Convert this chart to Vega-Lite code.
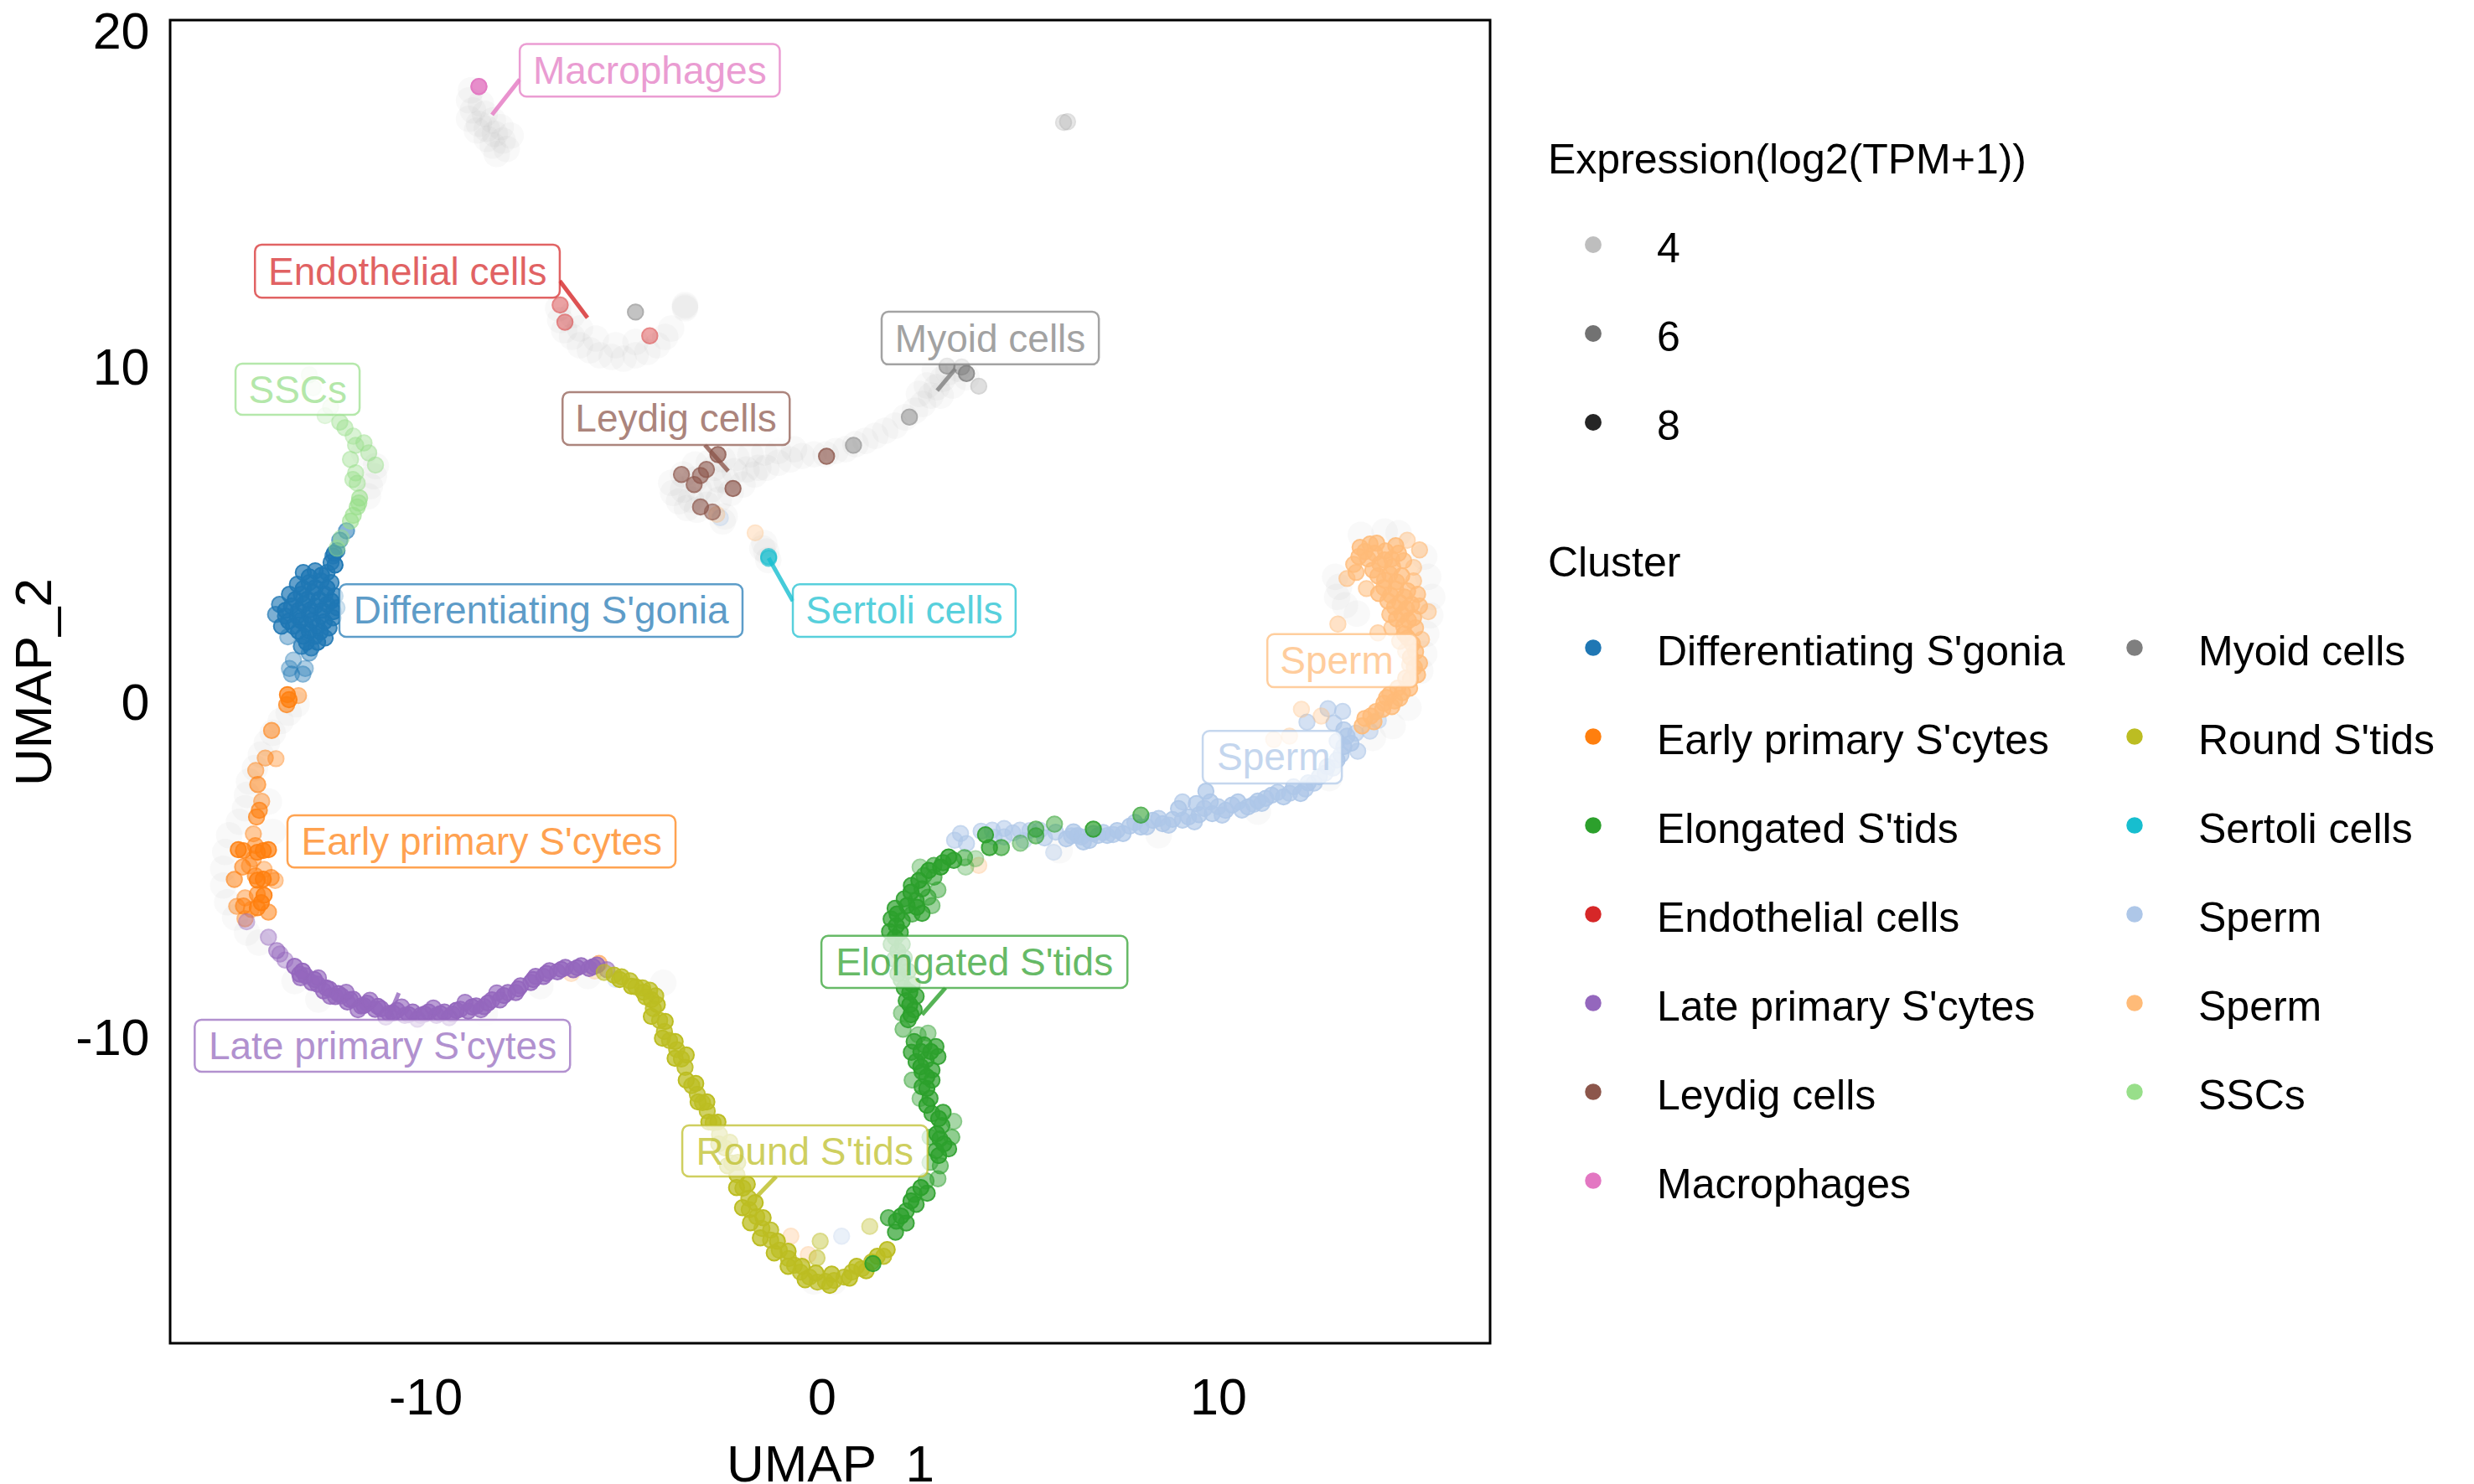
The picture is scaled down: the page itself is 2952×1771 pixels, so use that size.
{"$schema":"https://vega.github.io/schema/vega-lite/v6.json","autosize":{"type":"none"},"width":1575,"height":1579,"padding":{"left":203,"top":24,"right":1174,"bottom":168},"background":"white",
"config":{"font":"Liberation Sans","view":{"stroke":"#000","strokeWidth":3}},
"datasets":{
"bg":[{"x":-8.85,"y":18.2},{"x":-8.9,"y":17.9},{"x":-8.8,"y":17.6},{"x":-8.9,"y":17.35},{"x":-8.6,"y":17.8},{"x":-8.5,"y":17.5},{"x":-8.65,"y":17.2},{"x":-8.45,"y":17.05},{"x":-8.3,"y":17.3},{"x":-8.25,"y":16.9},{"x":-8.1,"y":17.1},{"x":-8.05,"y":16.7},{"x":-7.95,"y":16.45},{"x":-7.85,"y":16.85},{"x":-8.3,"y":16.55},{"x":-8.45,"y":16.75},{"x":-8.7,"y":17.0},{"x":-8.2,"y":16.3},
{"x":-6.65,"y":11.7},{"x":-6.6,"y":11.35},{"x":-6.5,"y":11.05},{"x":-6.3,"y":10.85},{"x":-6.1,"y":10.6},{"x":-5.85,"y":10.45},{"x":-5.6,"y":10.3},{"x":-5.3,"y":10.25},{"x":-5.0,"y":10.2},{"x":-4.7,"y":10.3},{"x":-4.4,"y":10.4},{"x":-4.15,"y":10.6},{"x":-3.95,"y":10.85},{"x":-3.8,"y":11.1},{"x":-5.2,"y":10.6},{"x":-5.7,"y":10.8},{"x":-6.1,"y":11.1},{"x":-6.3,"y":11.5},{"x":-4.7,"y":10.7},{"x":-3.45,"y":11.75},{"x":-3.45,"y":11.7},{"x":-3.45,"y":11.8},
{"x":-3.8,"y":6.5},{"x":-3.75,"y":6.2},{"x":-3.6,"y":5.95},{"x":-3.4,"y":5.75},{"x":-3.15,"y":5.7},{"x":-2.9,"y":5.85},{"x":-2.6,"y":6.0},{"x":-2.3,"y":6.2},{"x":-2.0,"y":6.45},{"x":-1.7,"y":6.75},{"x":-1.4,"y":6.95},{"x":-1.1,"y":7.1},{"x":-0.8,"y":7.2},{"x":-0.5,"y":7.3},{"x":-0.2,"y":7.35},{"x":-3.5,"y":6.75},{"x":-3.2,"y":7.05},{"x":-2.85,"y":7.1},{"x":-2.5,"y":7.2},{"x":-2.15,"y":7.25},{"x":-1.8,"y":7.35},{"x":-1.45,"y":7.4},{"x":-1.1,"y":7.45},{"x":-0.7,"y":7.5},{"x":-2.6,"y":6.6},{"x":-3.1,"y":6.3},{"x":-2.2,"y":6.85},{"x":-1.6,"y":6.95},{"x":-3.5,"y":6.3},{"x":-3.2,"y":6.6},{"x":-2.8,"y":6.3},{"x":-3.3,"y":6.0},{"x":-2.4,"y":6.55},{"x":-1.9,"y":6.9},{"x":-2.7,"y":6.95},
{"x":0.1,"y":7.35},{"x":0.35,"y":7.45},{"x":0.6,"y":7.5},{"x":0.85,"y":7.65},{"x":1.1,"y":7.75},{"x":1.35,"y":7.9},{"x":1.6,"y":8.05},{"x":1.85,"y":8.2},{"x":2.1,"y":8.45},{"x":2.35,"y":8.65},{"x":2.55,"y":8.85},{"x":2.75,"y":9.1},{"x":2.9,"y":9.35},{"x":3.05,"y":9.6},{"x":3.2,"y":9.8},{"x":3.45,"y":9.9},{"x":3.65,"y":9.65},{"x":2.65,"y":9.4},{"x":3.0,"y":9.1},{"x":3.3,"y":9.4},{"x":2.45,"y":9.15},{"x":2.85,"y":9.85},
{"x":-1.45,"y":4.7},{"x":-1.4,"y":4.45},{"x":-1.35,"y":4.2},{"x":-1.5,"y":4.55},{"x":-2.5,"y":5.35},{"x":-2.45,"y":5.5},
{"x":-11.3,"y":6.7},{"x":-11.4,"y":6.4},{"x":-11.25,"y":7.0},{"x":-11.45,"y":6.1},{"x":-11.55,"y":7.4},
{"x":-13.25,"y":-0.1},{"x":-13.45,"y":-0.35},{"x":-13.65,"y":-0.6},{"x":-13.85,"y":-0.95},{"x":-14.0,"y":-1.25},{"x":-14.15,"y":-1.6},{"x":-14.3,"y":-2.0},{"x":-14.45,"y":-2.4},{"x":-14.5,"y":-2.8},{"x":-14.55,"y":-3.2},{"x":-14.7,"y":-3.6},{"x":-14.95,"y":-4.0},{"x":-15.05,"y":-4.5},{"x":-15.1,"y":-5.0},{"x":-15.1,"y":-5.5},{"x":-15.0,"y":-6.0},{"x":-14.8,"y":-6.45},{"x":-14.5,"y":-6.9},{"x":-14.2,"y":-7.2},{"x":-13.95,"y":-3.0},{"x":-13.85,"y":-3.9},
{"x":12.95,"y":3.7},{"x":13.05,"y":3.4},{"x":13.0,"y":3.1},{"x":13.2,"y":2.85},{"x":13.5,"y":2.6},{"x":15.4,"y":3.1},{"x":15.35,"y":2.55},{"x":15.25,"y":2.0},{"x":15.2,"y":1.4},{"x":15.1,"y":0.9},{"x":14.55,"y":5.0},{"x":14.2,"y":5.05},{"x":15.2,"y":4.3},{"x":15.3,"y":3.7},{"x":13.6,"y":4.95},{"x":14.8,"y":-0.2},{"x":14.4,"y":-0.75},{"x":13.9,"y":-1.1},
{"x":-0.2,"y":-17.3},{"x":0.3,"y":-17.3},{"x":-5.9,"y":-8.2},{"x":-12.7,"y":-8.9},{"x":-13.3,"y":-8.35},{"x":-10,"y":-9.55},{"x":-8.5,"y":-9.3},{"x":-7.1,"y":-8.5},{"x":-4.0,"y":-8.4},{"x":6,"y":-4.45},{"x":8.5,"y":-4.0},{"x":11,"y":-3.3},{"x":12.8,"y":-2.3}],
"cells":[
{"x":3.35,"y":-4.15,"c":"Sperm","e":7},{"x":3.5,"y":-3.95,"c":"Sperm","e":7},{"x":3.65,"y":-4.25,"c":"Sperm","e":7},{"x":4.02,"y":-3.88,"c":"Sperm","e":7},{"x":4.35,"y":-4.06,"c":"Sperm","e":7},{"x":4.6,"y":-3.8,"c":"Sperm","e":7},{"x":4.82,"y":-3.93,"c":"Sperm","e":7},{"x":5.1,"y":-4.16,"c":"Sperm","e":6},{"x":5.25,"y":-3.86,"c":"Sperm","e":7},{"x":5.62,"y":-4.08,"c":"Sperm","e":7.5},{"x":5.85,"y":-4.51,"c":"Sperm","e":5.5},{"x":5.9,"y":-3.91,"c":"Sperm","e":7.5},{"x":6.17,"y":-4.11,"c":"Sperm","e":8.5},{"x":6.35,"y":-3.9,"c":"Sperm","e":8.5},{"x":6.45,"y":-4.01,"c":"Sperm","e":8.5},{"x":6.6,"y":-4.2,"c":"Sperm","e":8.5},{"x":6.75,"y":-4.16,"c":"Sperm","e":8.5},{"x":6.97,"y":-4.01,"c":"Sperm","e":8.5},{"x":7.2,"y":-4.01,"c":"Sperm","e":8.5},{"x":7.45,"y":-3.86,"c":"Sperm","e":8.5},{"x":7.6,"y":-3.95,"c":"Sperm","e":8.5},{"x":7.77,"y":-3.73,"c":"Sperm","e":8.5},{"x":8.05,"y":-3.76,"c":"Sperm","e":8.5},{"x":8.35,"y":-3.56,"c":"Sperm","e":8.5},{"x":8.6,"y":-3.66,"c":"Sperm","e":8.5},{"x":8.85,"y":-3.53,"c":"Sperm","e":8.5},{"x":9.1,"y":-3.01,"c":"Sperm","e":7.5},{"x":9.0,"y":-3.21,"c":"Sperm","e":8.5},{"x":9.25,"y":-3.46,"c":"Sperm","e":8.5},{"x":9.52,"y":-3.39,"c":"Sperm","e":8.5},{"x":9.69,"y":-2.69,"c":"Sperm","e":8.5},{"x":9.45,"y":-3.06,"c":"Sperm","e":8.5},{"x":9.85,"y":-3.36,"c":"Sperm","e":8.5},{"x":9.8,"y":-3.01,"c":"Sperm","e":8.5},{"x":10.19,"y":-3.26,"c":"Sperm","e":8.5},{"x":10.35,"y":-3.1,"c":"Sperm","e":8.5},{"x":10.5,"y":-3.01,"c":"Sperm","e":8.5},{"x":10.75,"y":-3.16,"c":"Sperm","e":8.5},{"x":11.0,"y":-2.98,"c":"Sperm","e":8.5},{"x":11.2,"y":-2.9,"c":"Sperm","e":8.5},{"x":11.35,"y":-2.81,"c":"Sperm","e":8.5},{"x":11.65,"y":-2.86,"c":"Sperm","e":8.5},{"x":11.9,"y":-2.56,"c":"Sperm","e":8.5},{"x":12.08,"y":-2.76,"c":"Sperm","e":8.5},{"x":12.27,"y":-2.44,"c":"Sperm","e":8.5},{"x":12.55,"y":-2.26,"c":"Sperm","e":8.5},{"x":12.75,"y":-1.96,"c":"Sperm","e":8.5},{"x":13.0,"y":-1.76,"c":"Sperm","e":8.5},{"x":13.17,"y":-1.36,"c":"Sperm","e":8.5},{"x":13.35,"y":-1.26,"c":"Sperm","e":8.5},{"x":13.52,"y":-1.5,"c":"Sperm","e":7},{"x":13.47,"y":-0.96,"c":"Sperm","e":7},{"x":13.17,"y":-0.86,"c":"Sperm","e":8},{"x":12.92,"y":-0.66,"c":"Sperm","e":7},{"x":13.14,"y":-0.31,"c":"Sperm","e":7},{"x":12.77,"y":-0.23,"c":"Sperm","e":7},{"x":12.24,"y":-0.63,"c":"Sperm","e":7},{"x":14.04,"y":-0.58,"c":"Sperm","e":6},{"x":13.83,"y":-0.9,"c":"Sperm","e":6.5},{"x":0.5,"y":-15.95,"c":"Sperm","e":4.5},{"x":-2.56,"y":5.46,"c":"Sperm","e":5},{"x":-5.2,"y":-8.3,"c":"Sperm","e":4.5},
{"x":6.3,"y":-4.02,"c":"Sperm","e":8},{"x":6.55,"y":-4.05,"c":"Sperm","e":8},{"x":6.85,"y":-3.95,"c":"Sperm","e":8},{"x":7.1,"y":-3.92,"c":"Sperm","e":8},{"x":7.35,"y":-3.98,"c":"Sperm","e":8},{"x":7.9,"y":-3.62,"c":"Sperm","e":8},{"x":8.2,"y":-3.75,"c":"Sperm","e":8},{"x":8.5,"y":-3.5,"c":"Sperm","e":8},{"x":8.75,"y":-3.7,"c":"Sperm","e":8},{"x":9.1,"y":-3.55,"c":"Sperm","e":8},{"x":9.4,"y":-3.6,"c":"Sperm","e":8},{"x":9.65,"y":-3.2,"c":"Sperm","e":8},{"x":10.0,"y":-3.15,"c":"Sperm","e":8},{"x":10.1,"y":-3.4,"c":"Sperm","e":8},{"x":10.6,"y":-3.25,"c":"Sperm","e":8},{"x":10.9,"y":-3.08,"c":"Sperm","e":8},{"x":11.1,"y":-3.05,"c":"Sperm","e":8},{"x":11.5,"y":-2.72,"c":"Sperm","e":8},{"x":11.8,"y":-2.75,"c":"Sperm","e":8},{"x":12.2,"y":-2.62,"c":"Sperm","e":8},{"x":12.42,"y":-2.45,"c":"Sperm","e":8},{"x":12.7,"y":-2.15,"c":"Sperm","e":8},{"x":12.9,"y":-2.0,"c":"Sperm","e":8},{"x":13.1,"y":-1.6,"c":"Sperm","e":8},{"x":13.25,"y":-1.05,"c":"Sperm","e":8},{"x":13.0,"y":-1.2,"c":"Sperm","e":8},{"x":4.3,"y":-3.85,"c":"Sperm","e":7},{"x":4.6,"y":-4.05,"c":"Sperm","e":7},{"x":5.0,"y":-3.85,"c":"Sperm","e":7},{"x":5.5,"y":-3.85,"c":"Sperm","e":7},
{"x":11.4,"y":-1.15,"c":"Sperm ","e":5},{"x":11.8,"y":-1.05,"c":"Sperm ","e":5},{"x":12.6,"y":-0.45,"c":"Sperm ","e":5},{"x":12.1,"y":-0.25,"c":"Sperm ","e":5},
{"x":13.58,"y":4.58,"c":"Sperm ","e":8.5},{"x":13.83,"y":4.68,"c":"Sperm ","e":8.5},{"x":14.22,"y":4.47,"c":"Sperm ","e":8.5},{"x":14.0,"y":4.7,"c":"Sperm ","e":8.5},{"x":14.48,"y":4.63,"c":"Sperm ","e":8.5},{"x":14.77,"y":4.79,"c":"Sperm ","e":6},{"x":15.08,"y":4.5,"c":"Sperm ","e":7},{"x":13.42,"y":4.07,"c":"Sperm ","e":8},{"x":13.25,"y":3.65,"c":"Sperm ","e":7},{"x":13.48,"y":3.83,"c":"Sperm ","e":8},{"x":13.78,"y":4.23,"c":"Sperm ","e":8.5},{"x":14.08,"y":4.08,"c":"Sperm ","e":8.5},{"x":14.38,"y":4.23,"c":"Sperm ","e":8.5},{"x":14.68,"y":4.18,"c":"Sperm ","e":8},{"x":14.93,"y":3.98,"c":"Sperm ","e":6.5},{"x":13.74,"y":3.35,"c":"Sperm ","e":7},{"x":14.03,"y":3.73,"c":"Sperm ","e":8.5},{"x":14.33,"y":3.78,"c":"Sperm ","e":8.5},{"x":14.63,"y":3.73,"c":"Sperm ","e":8.5},{"x":14.93,"y":3.58,"c":"Sperm ","e":7},{"x":14.18,"y":3.38,"c":"Sperm ","e":8.5},{"x":14.48,"y":3.33,"c":"Sperm ","e":8.5},{"x":14.78,"y":3.28,"c":"Sperm ","e":8.5},{"x":15.03,"y":3.18,"c":"Sperm ","e":8},{"x":14.28,"y":2.98,"c":"Sperm ","e":8.5},{"x":14.58,"y":2.93,"c":"Sperm ","e":8.5},{"x":14.88,"y":2.88,"c":"Sperm ","e":8.5},{"x":15.08,"y":2.83,"c":"Sperm ","e":8},{"x":15.3,"y":2.66,"c":"Sperm ","e":6.5},{"x":14.33,"y":2.58,"c":"Sperm ","e":8},{"x":14.63,"y":2.58,"c":"Sperm ","e":8.5},{"x":14.93,"y":2.48,"c":"Sperm ","e":8.5},{"x":14.38,"y":2.18,"c":"Sperm ","e":7},{"x":14.68,"y":2.23,"c":"Sperm ","e":8},{"x":14.98,"y":2.18,"c":"Sperm ","e":8},{"x":14.03,"y":2.03,"c":"Sperm ","e":6.5},{"x":14.78,"y":1.88,"c":"Sperm ","e":8.5},{"x":15.13,"y":1.83,"c":"Sperm ","e":7},{"x":14.58,"y":1.78,"c":"Sperm ","e":7},{"x":14.98,"y":1.47,"c":"Sperm ","e":8.5},{"x":14.73,"y":1.48,"c":"Sperm ","e":6},{"x":15.08,"y":1.13,"c":"Sperm ","e":8.5},{"x":14.83,"y":1.08,"c":"Sperm ","e":7},{"x":15.03,"y":0.78,"c":"Sperm ","e":8.5},{"x":14.73,"y":0.68,"c":"Sperm ","e":8.5},{"x":14.83,"y":0.38,"c":"Sperm ","e":8.5},{"x":14.53,"y":0.38,"c":"Sperm ","e":8.5},{"x":14.33,"y":0.2,"c":"Sperm ","e":8.5},{"x":14.58,"y":0.08,"c":"Sperm ","e":8.5},{"x":14.18,"y":-0.07,"c":"Sperm ","e":8.5},{"x":14.38,"y":-0.17,"c":"Sperm ","e":8.5},{"x":13.98,"y":-0.32,"c":"Sperm ","e":8.5},{"x":13.7,"y":-0.52,"c":"Sperm ","e":8.5},{"x":13.93,"y":-0.62,"c":"Sperm ","e":8.5},{"x":13.63,"y":-0.74,"c":"Sperm ","e":8.5},{"x":13.02,"y":2.29,"c":"Sperm ","e":6},{"x":3.96,"y":-4.9,"c":"Sperm ","e":5},{"x":-2.65,"y":5.56,"c":"Sperm ","e":5},{"x":-1.68,"y":5.01,"c":"Sperm ","e":5},{"x":-0.78,"y":-15.95,"c":"Sperm ","e":5},{"x":-0.34,"y":-16.5,"c":"Sperm ","e":5},{"x":-6.32,"y":-8.12,"c":"Sperm ","e":5},{"x":-5.73,"y":-8.05,"c":"Sperm ","e":5},
{"x":13.7,"y":4.45,"c":"Sperm ","e":8.5},{"x":13.95,"y":4.4,"c":"Sperm ","e":8.5},{"x":14.2,"y":4.2,"c":"Sperm ","e":8.5},{"x":14.55,"y":4.4,"c":"Sperm ","e":8.5},{"x":13.55,"y":4.3,"c":"Sperm ","e":8.5},{"x":13.9,"y":3.9,"c":"Sperm ","e":8.5},{"x":14.2,"y":3.6,"c":"Sperm ","e":8.5},{"x":14.5,"y":3.55,"c":"Sperm ","e":8.5},{"x":14.4,"y":4.0,"c":"Sperm ","e":8.5},{"x":14.05,"y":3.2,"c":"Sperm ","e":8.5},{"x":14.35,"y":3.15,"c":"Sperm ","e":8.5},{"x":14.7,"y":3.1,"c":"Sperm ","e":8.5},{"x":14.45,"y":2.8,"c":"Sperm ","e":8.5},{"x":14.75,"y":2.75,"c":"Sperm ","e":8.5},{"x":14.5,"y":2.45,"c":"Sperm ","e":8.5},{"x":14.8,"y":2.4,"c":"Sperm ","e":8.5},{"x":14.7,"y":2.0,"c":"Sperm ","e":8.5},{"x":14.9,"y":1.7,"c":"Sperm ","e":8.5},{"x":14.85,"y":1.3,"c":"Sperm ","e":8.5},{"x":14.95,"y":1.0,"c":"Sperm ","e":8.5},{"x":14.85,"y":0.65,"c":"Sperm ","e":8.5},{"x":14.65,"y":0.25,"c":"Sperm ","e":8.5},{"x":14.45,"y":0.0,"c":"Sperm ","e":8.5},{"x":14.15,"y":-0.25,"c":"Sperm ","e":8.5},{"x":13.85,"y":-0.45,"c":"Sperm ","e":8.5},{"x":14.25,"y":0.1,"c":"Sperm ","e":8.5},
{"x":-13.33,"y":1.22,"c":"Differentiating S'gonia","e":5.5},{"x":-13.47,"y":1.91,"c":"Differentiating S'gonia","e":6},{"x":-13.43,"y":0.97,"c":"Differentiating S'gonia","e":5.5},{"x":-13.03,"y":0.97,"c":"Differentiating S'gonia","e":5.5},{"x":-13.38,"y":0.8,"c":"Differentiating S'gonia","e":6},{"x":-13.09,"y":0.8,"c":"Differentiating S'gonia","e":6},
{"x":-12.33,"y":4.32,"c":"Differentiating S'gonia","e":8},{"x":-12.38,"y":4.13,"c":"Differentiating S'gonia","e":8.5},{"x":-12.23,"y":4.48,"c":"Differentiating S'gonia","e":8},{"x":-12.16,"y":4.79,"c":"Differentiating S'gonia","e":7},{"x":-11.99,"y":5.07,"c":"Differentiating S'gonia","e":7},
{"x":-13.08,"y":3.83,"c":"Differentiating S'gonia","e":8.5},{"x":-12.78,"y":3.88,"c":"Differentiating S'gonia","e":8.5},{"x":-12.48,"y":3.83,"c":"Differentiating S'gonia","e":8.5},{"x":-13.23,"y":3.48,"c":"Differentiating S'gonia","e":8.5},{"x":-12.93,"y":3.53,"c":"Differentiating S'gonia","e":8.5},{"x":-12.63,"y":3.58,"c":"Differentiating S'gonia","e":8.5},{"x":-12.38,"y":3.53,"c":"Differentiating S'gonia","e":8.5},{"x":-13.43,"y":3.18,"c":"Differentiating S'gonia","e":8.5},{"x":-13.13,"y":3.18,"c":"Differentiating S'gonia","e":8.5},{"x":-12.83,"y":3.23,"c":"Differentiating S'gonia","e":8.5},{"x":-12.53,"y":3.18,"c":"Differentiating S'gonia","e":8.5},{"x":-12.28,"y":3.13,"c":"Differentiating S'gonia","e":8.5},{"x":-13.68,"y":2.88,"c":"Differentiating S'gonia","e":8},{"x":-13.38,"y":2.83,"c":"Differentiating S'gonia","e":8.5},{"x":-13.08,"y":2.88,"c":"Differentiating S'gonia","e":8.5},{"x":-12.78,"y":2.83,"c":"Differentiating S'gonia","e":8.5},{"x":-12.48,"y":2.88,"c":"Differentiating S'gonia","e":8.5},{"x":-12.23,"y":2.78,"c":"Differentiating S'gonia","e":8.5},{"x":-13.78,"y":2.58,"c":"Differentiating S'gonia","e":7.5},{"x":-13.53,"y":2.53,"c":"Differentiating S'gonia","e":8.5},{"x":-13.23,"y":2.53,"c":"Differentiating S'gonia","e":8.5},{"x":-12.93,"y":2.58,"c":"Differentiating S'gonia","e":8.5},{"x":-12.63,"y":2.53,"c":"Differentiating S'gonia","e":8.5},{"x":-12.33,"y":2.48,"c":"Differentiating S'gonia","e":8.5},{"x":-13.63,"y":2.23,"c":"Differentiating S'gonia","e":8.5},{"x":-13.33,"y":2.23,"c":"Differentiating S'gonia","e":8.5},{"x":-13.03,"y":2.28,"c":"Differentiating S'gonia","e":8.5},{"x":-12.73,"y":2.23,"c":"Differentiating S'gonia","e":8.5},{"x":-12.43,"y":2.18,"c":"Differentiating S'gonia","e":8.5},{"x":-13.08,"y":1.93,"c":"Differentiating S'gonia","e":8.5},{"x":-12.78,"y":1.93,"c":"Differentiating S'gonia","e":8.5},{"x":-12.53,"y":1.88,"c":"Differentiating S'gonia","e":8.5},{"x":-13.13,"y":1.63,"c":"Differentiating S'gonia","e":8},{"x":-12.88,"y":1.58,"c":"Differentiating S'gonia","e":8},{"x":-12.93,"y":1.43,"c":"Differentiating S'gonia","e":6.5},
{"x":-12.93,"y":3.7,"c":"Differentiating S'gonia","e":9},{"x":-12.62,"y":3.75,"c":"Differentiating S'gonia","e":9},{"x":-13.08,"y":3.35,"c":"Differentiating S'gonia","e":9},{"x":-12.78,"y":3.38,"c":"Differentiating S'gonia","e":9},{"x":-12.48,"y":3.36,"c":"Differentiating S'gonia","e":9},{"x":-13.28,"y":3.02,"c":"Differentiating S'gonia","e":9},{"x":-12.98,"y":3.03,"c":"Differentiating S'gonia","e":9},{"x":-12.68,"y":3.02,"c":"Differentiating S'gonia","e":9},{"x":-12.38,"y":2.98,"c":"Differentiating S'gonia","e":9},{"x":-13.53,"y":2.7,"c":"Differentiating S'gonia","e":9},{"x":-13.2,"y":2.7,"c":"Differentiating S'gonia","e":9},{"x":-12.9,"y":2.72,"c":"Differentiating S'gonia","e":9},{"x":-12.6,"y":2.7,"c":"Differentiating S'gonia","e":9},{"x":-12.32,"y":2.66,"c":"Differentiating S'gonia","e":9},{"x":-13.45,"y":2.38,"c":"Differentiating S'gonia","e":9},{"x":-13.15,"y":2.4,"c":"Differentiating S'gonia","e":9},{"x":-12.85,"y":2.4,"c":"Differentiating S'gonia","e":9},{"x":-12.55,"y":2.36,"c":"Differentiating S'gonia","e":9},{"x":-13.2,"y":2.08,"c":"Differentiating S'gonia","e":9},{"x":-12.93,"y":2.08,"c":"Differentiating S'gonia","e":9},{"x":-12.65,"y":2.06,"c":"Differentiating S'gonia","e":9},{"x":-13.0,"y":1.75,"c":"Differentiating S'gonia","e":9},{"x":-12.72,"y":1.75,"c":"Differentiating S'gonia","e":9},{"x":-12.28,"y":4.05,"c":"Differentiating S'gonia","e":9},{"x":-12.3,"y":4.4,"c":"Differentiating S'gonia","e":8.5},
{"x":-12.12,"y":4.86,"c":"SSCs","e":6},{"x":-12.23,"y":4.55,"c":"SSCs","e":6},{"x":-11.89,"y":5.36,"c":"SSCs","e":7},{"x":-11.82,"y":5.53,"c":"SSCs","e":7},{"x":-11.72,"y":5.78,"c":"SSCs","e":7},{"x":-11.66,"y":6.05,"c":"SSCs","e":7},{"x":-11.68,"y":5.9,"c":"SSCs","e":7},{"x":-11.72,"y":6.49,"c":"SSCs","e":6},{"x":-11.76,"y":6.8,"c":"SSCs","e":6},{"x":-11.83,"y":6.6,"c":"SSCs","e":6},{"x":-11.89,"y":7.2,"c":"SSCs","e":6},{"x":-11.26,"y":7.03,"c":"SSCs","e":6},{"x":-11.43,"y":7.39,"c":"SSCs","e":6},{"x":-11.76,"y":7.62,"c":"SSCs","e":6},{"x":-11.55,"y":7.69,"c":"SSCs","e":6},{"x":-11.82,"y":7.89,"c":"SSCs","e":5.5},{"x":-12.03,"y":8.14,"c":"SSCs","e":6},{"x":-12.16,"y":8.31,"c":"SSCs","e":6},{"x":-12.39,"y":8.76,"c":"SSCs","e":4.5},{"x":-12.53,"y":8.5,"c":"SSCs","e":4.5},{"x":-12.83,"y":9.33,"c":"SSCs","e":4},{"x":-12.93,"y":9.72,"c":"SSCs","e":4},
{"x":-13.48,"y":0.19,"c":"Early primary S'cytes","e":8.5},{"x":-13.2,"y":0.16,"c":"Early primary S'cytes","e":6},{"x":-13.5,"y":-0.11,"c":"Early primary S'cytes","e":7.5},{"x":-13.44,"y":0.04,"c":"Early primary S'cytes","e":8.5},{"x":-13.88,"y":-0.88,"c":"Early primary S'cytes","e":7},{"x":-14.04,"y":-1.7,"c":"Early primary S'cytes","e":6},{"x":-13.77,"y":-1.72,"c":"Early primary S'cytes","e":5.5},{"x":-14.28,"y":-2.07,"c":"Early primary S'cytes","e":6},{"x":-14.23,"y":-2.49,"c":"Early primary S'cytes","e":7},{"x":-14.13,"y":-2.99,"c":"Early primary S'cytes","e":6},{"x":-14.19,"y":-3.26,"c":"Early primary S'cytes","e":7.5},{"x":-14.26,"y":-3.46,"c":"Early primary S'cytes","e":7.5},{"x":-14.34,"y":-3.96,"c":"Early primary S'cytes","e":6},{"x":-14.72,"y":-4.43,"c":"Early primary S'cytes","e":8.5},{"x":-14.59,"y":-4.46,"c":"Early primary S'cytes","e":8},{"x":-14.29,"y":-4.31,"c":"Early primary S'cytes","e":7},{"x":-14.24,"y":-4.51,"c":"Early primary S'cytes","e":8.5},{"x":-14.09,"y":-4.46,"c":"Early primary S'cytes","e":8.5},{"x":-13.96,"y":-4.43,"c":"Early primary S'cytes","e":8.5},{"x":-14.34,"y":-4.71,"c":"Early primary S'cytes","e":6},{"x":-14.61,"y":-4.95,"c":"Early primary S'cytes","e":7},{"x":-14.44,"y":-4.91,"c":"Early primary S'cytes","e":6},{"x":-14.82,"y":-5.32,"c":"Early primary S'cytes","e":7},{"x":-14.24,"y":-5.34,"c":"Early primary S'cytes","e":8.5},{"x":-14.09,"y":-5.31,"c":"Early primary S'cytes","e":8.5},{"x":-14.29,"y":-5.21,"c":"Early primary S'cytes","e":7},{"x":-13.79,"y":-5.35,"c":"Early primary S'cytes","e":5.5},{"x":-13.89,"y":-5.26,"c":"Early primary S'cytes","e":7},{"x":-14.07,"y":-5.02,"c":"Early primary S'cytes","e":5.5},{"x":-14.55,"y":-5.87,"c":"Early primary S'cytes","e":6},{"x":-14.07,"y":-5.79,"c":"Early primary S'cytes","e":8.5},{"x":-14.24,"y":-5.76,"c":"Early primary S'cytes","e":7},{"x":-14.14,"y":-6.01,"c":"Early primary S'cytes","e":8.5},{"x":-14.76,"y":-6.12,"c":"Early primary S'cytes","e":6},{"x":-14.59,"y":-6.11,"c":"Early primary S'cytes","e":7},{"x":-13.96,"y":-6.29,"c":"Early primary S'cytes","e":7},{"x":-14.24,"y":-6.16,"c":"Early primary S'cytes","e":8},{"x":-14.39,"y":-6.21,"c":"Early primary S'cytes","e":6},{"x":-14.55,"y":-6.49,"c":"Early primary S'cytes","e":6},{"x":-5.62,"y":-7.82,"c":"Early primary S'cytes","e":6},
{"x":-14.51,"y":-6.58,"c":"Late primary S'cytes","e":5.5},{"x":-13.96,"y":-7.04,"c":"Late primary S'cytes","e":6},{"x":-13.75,"y":-7.44,"c":"Late primary S'cytes","e":7},{"x":-13.67,"y":-7.54,"c":"Late primary S'cytes","e":6},{"x":-13.54,"y":-7.72,"c":"Late primary S'cytes","e":6},{"x":-13.3,"y":-7.91,"c":"Late primary S'cytes","e":8.5},{"x":-13.17,"y":-8.14,"c":"Late primary S'cytes","e":8.5},{"x":-13.02,"y":-8.19,"c":"Late primary S'cytes","e":8.5},{"x":-12.87,"y":-8.39,"c":"Late primary S'cytes","e":8.5},{"x":-12.72,"y":-8.44,"c":"Late primary S'cytes","e":8.5},{"x":-12.57,"y":-8.64,"c":"Late primary S'cytes","e":8.5},{"x":-12.42,"y":-8.59,"c":"Late primary S'cytes","e":8.5},{"x":-12.27,"y":-8.81,"c":"Late primary S'cytes","e":8.5},{"x":-12.12,"y":-8.79,"c":"Late primary S'cytes","e":8.5},{"x":-11.97,"y":-8.97,"c":"Late primary S'cytes","e":8.5},{"x":-11.82,"y":-8.89,"c":"Late primary S'cytes","e":8.5},{"x":-11.62,"y":-9.09,"c":"Late primary S'cytes","e":8.5},{"x":-11.47,"y":-9.01,"c":"Late primary S'cytes","e":8.5},{"x":-11.27,"y":-9.19,"c":"Late primary S'cytes","e":8.5},{"x":-11.12,"y":-9.17,"c":"Late primary S'cytes","e":8.5},{"x":-10.92,"y":-9.31,"c":"Late primary S'cytes","e":8.5},{"x":-10.72,"y":-9.22,"c":"Late primary S'cytes","e":8.5},{"x":-10.52,"y":-9.37,"c":"Late primary S'cytes","e":8.5},{"x":-10.32,"y":-9.27,"c":"Late primary S'cytes","e":8.5},{"x":-10.12,"y":-9.37,"c":"Late primary S'cytes","e":8.5},{"x":-9.92,"y":-9.27,"c":"Late primary S'cytes","e":8.5},{"x":-9.72,"y":-9.37,"c":"Late primary S'cytes","e":8.5},{"x":-9.52,"y":-9.27,"c":"Late primary S'cytes","e":8.5},{"x":-9.32,"y":-9.33,"c":"Late primary S'cytes","e":8.5},{"x":-9.12,"y":-9.19,"c":"Late primary S'cytes","e":8.5},{"x":-8.92,"y":-9.24,"c":"Late primary S'cytes","e":8.5},{"x":-8.72,"y":-9.09,"c":"Late primary S'cytes","e":8.5},{"x":-8.52,"y":-9.11,"c":"Late primary S'cytes","e":8.5},{"x":-8.32,"y":-8.91,"c":"Late primary S'cytes","e":8.5},{"x":-8.12,"y":-8.91,"c":"Late primary S'cytes","e":8.5},{"x":-7.92,"y":-8.69,"c":"Late primary S'cytes","e":8.5},{"x":-7.72,"y":-8.69,"c":"Late primary S'cytes","e":8.5},{"x":-7.6,"y":-8.49,"c":"Late primary S'cytes","e":8.5},{"x":-7.34,"y":-8.39,"c":"Late primary S'cytes","e":8.5},{"x":-7.22,"y":-8.21,"c":"Late primary S'cytes","e":8.5},{"x":-7.02,"y":-8.21,"c":"Late primary S'cytes","e":8.5},{"x":-6.87,"y":-8.04,"c":"Late primary S'cytes","e":8.5},{"x":-6.67,"y":-8.07,"c":"Late primary S'cytes","e":8.5},{"x":-6.47,"y":-7.94,"c":"Late primary S'cytes","e":8.5},{"x":-6.27,"y":-8.01,"c":"Late primary S'cytes","e":8.5},{"x":-6.07,"y":-7.89,"c":"Late primary S'cytes","e":8.5},{"x":-5.87,"y":-7.97,"c":"Late primary S'cytes","e":8.5},{"x":-5.67,"y":-7.87,"c":"Late primary S'cytes","e":8.5},{"x":-5.42,"y":-8.01,"c":"Late primary S'cytes","e":7},
{"x":-13.1,"y":-8.05,"c":"Late primary S'cytes","e":9},{"x":-12.8,"y":-8.3,"c":"Late primary S'cytes","e":9},{"x":-12.5,"y":-8.55,"c":"Late primary S'cytes","e":9},{"x":-12.2,"y":-8.72,"c":"Late primary S'cytes","e":9},{"x":-11.9,"y":-8.9,"c":"Late primary S'cytes","e":9},{"x":-11.55,"y":-9.08,"c":"Late primary S'cytes","e":9},{"x":-11.2,"y":-9.1,"c":"Late primary S'cytes","e":9},{"x":-10.82,"y":-9.3,"c":"Late primary S'cytes","e":9},{"x":-10.42,"y":-9.35,"c":"Late primary S'cytes","e":9},{"x":-10.02,"y":-9.33,"c":"Late primary S'cytes","e":9},{"x":-9.62,"y":-9.32,"c":"Late primary S'cytes","e":9},{"x":-9.22,"y":-9.22,"c":"Late primary S'cytes","e":9},{"x":-8.82,"y":-9.12,"c":"Late primary S'cytes","e":9},{"x":-8.42,"y":-9.0,"c":"Late primary S'cytes","e":9},{"x":-8.02,"y":-8.78,"c":"Late primary S'cytes","e":9},{"x":-7.66,"y":-8.58,"c":"Late primary S'cytes","e":9},{"x":-7.28,"y":-8.3,"c":"Late primary S'cytes","e":9},{"x":-6.95,"y":-8.12,"c":"Late primary S'cytes","e":9},{"x":-6.57,"y":-8.0,"c":"Late primary S'cytes","e":9},{"x":-6.17,"y":-7.95,"c":"Late primary S'cytes","e":9},{"x":-5.77,"y":-7.92,"c":"Late primary S'cytes","e":9},
{"x":-13.15,"y":-8.25,"c":"Late primary S'cytes","e":8},{"x":-12.4,"y":-8.8,"c":"Late primary S'cytes","e":8},{"x":-11.7,"y":-9.2,"c":"Late primary S'cytes","e":8},{"x":-11,"y":-9.42,"c":"Late primary S'cytes","e":8},{"x":-10.2,"y":-9.48,"c":"Late primary S'cytes","e":8},{"x":-9.4,"y":-9.44,"c":"Late primary S'cytes","e":8},{"x":-8.6,"y":-9.2,"c":"Late primary S'cytes","e":8},{"x":-8.2,"y":-8.7,"c":"Late primary S'cytes","e":8},{"x":-9,"y":-8.98,"c":"Late primary S'cytes","e":8},{"x":-9.8,"y":-9.15,"c":"Late primary S'cytes","e":8},{"x":-10.6,"y":-9.12,"c":"Late primary S'cytes","e":8},{"x":-11.4,"y":-8.92,"c":"Late primary S'cytes","e":8},{"x":-12,"y":-8.68,"c":"Late primary S'cytes","e":8},{"x":-12.7,"y":-8.25,"c":"Late primary S'cytes","e":8},
{"x":-5.49,"y":-8.09,"c":"Round S'tids","e":7},{"x":-5.24,"y":-8.17,"c":"Round S'tids","e":8.5},{"x":-5.05,"y":-8.22,"c":"Round S'tids","e":8.5},{"x":-4.84,"y":-8.34,"c":"Round S'tids","e":8.5},{"x":-4.69,"y":-8.52,"c":"Round S'tids","e":8.5},{"x":-4.52,"y":-8.55,"c":"Round S'tids","e":8.5},{"x":-4.34,"y":-8.62,"c":"Round S'tids","e":8.5},{"x":-4.19,"y":-8.79,"c":"Round S'tids","e":8.5},{"x":-4.44,"y":-8.82,"c":"Round S'tids","e":8.5},{"x":-4.25,"y":-9.17,"c":"Round S'tids","e":8.5},{"x":-4.09,"y":-9.52,"c":"Round S'tids","e":8.5},{"x":-3.97,"y":-9.85,"c":"Round S'tids","e":8.5},{"x":-3.84,"y":-10.12,"c":"Round S'tids","e":8.5},{"x":-3.66,"y":-10.39,"c":"Round S'tids","e":8.5},{"x":-3.54,"y":-10.67,"c":"Round S'tids","e":8.5},{"x":-3.45,"y":-10.92,"c":"Round S'tids","e":8.5},{"x":-3.28,"y":-11.46,"c":"Round S'tids","e":8.5},{"x":-3.14,"y":-11.72,"c":"Round S'tids","e":8.5},{"x":-3.01,"y":-11.97,"c":"Round S'tids","e":8.5},{"x":-2.89,"y":-12.22,"c":"Round S'tids","e":8.5},{"x":-2.74,"y":-12.57,"c":"Round S'tids","e":8.5},{"x":-2.58,"y":-12.92,"c":"Round S'tids","e":8.5},{"x":-2.44,"y":-13.32,"c":"Round S'tids","e":8.5},{"x":-2.27,"y":-13.77,"c":"Round S'tids","e":8.5},{"x":-2.14,"y":-14.12,"c":"Round S'tids","e":8.5},{"x":-1.99,"y":-14.52,"c":"Round S'tids","e":8.5},{"x":-1.84,"y":-14.82,"c":"Round S'tids","e":8.5},{"x":-1.83,"y":-15.16,"c":"Round S'tids","e":8.5},{"x":-1.64,"y":-15.37,"c":"Round S'tids","e":8.5},{"x":-1.51,"y":-15.72,"c":"Round S'tids","e":8.5},{"x":-1.29,"y":-15.77,"c":"Round S'tids","e":8.5},{"x":-1.29,"y":-16.07,"c":"Round S'tids","e":8.5},{"x":-1.07,"y":-16.37,"c":"Round S'tids","e":8.5},{"x":-0.84,"y":-16.62,"c":"Round S'tids","e":8.5},{"x":-0.69,"y":-16.82,"c":"Round S'tids","e":8.5},{"x":-0.54,"y":-17.02,"c":"Round S'tids","e":8.5},{"x":-0.31,"y":-17.17,"c":"Round S'tids","e":8.5},{"x":-0.11,"y":-17.32,"c":"Round S'tids","e":8.5},{"x":0.09,"y":-17.3,"c":"Round S'tids","e":8.5},{"x":0.31,"y":-17.27,"c":"Round S'tids","e":8.5},{"x":0.56,"y":-17.17,"c":"Round S'tids","e":8.5},{"x":0.76,"y":-17.02,"c":"Round S'tids","e":8.5},{"x":1.01,"y":-16.92,"c":"Round S'tids","e":8.5},{"x":1.26,"y":-16.72,"c":"Round S'tids","e":8.5},{"x":1.56,"y":-16.55,"c":"Round S'tids","e":8.5},{"x":-0.04,"y":-16.1,"c":"Round S'tids","e":6},{"x":-0.12,"y":-16.6,"c":"Round S'tids","e":6.5},{"x":1.21,"y":-15.66,"c":"Round S'tids","e":5.5},
{"x":-5.1,"y":-8.3,"c":"Round S'tids","e":9},{"x":-4.8,"y":-8.5,"c":"Round S'tids","e":9},{"x":-4.5,"y":-8.68,"c":"Round S'tids","e":9},{"x":-4.3,"y":-8.9,"c":"Round S'tids","e":9},{"x":-4.15,"y":-9.05,"c":"Round S'tids","e":9},{"x":-4.3,"y":-9.4,"c":"Round S'tids","e":9},{"x":-3.95,"y":-9.55,"c":"Round S'tids","e":9},{"x":-4.02,"y":-10.05,"c":"Round S'tids","e":9},{"x":-3.7,"y":-10.15,"c":"Round S'tids","e":9},{"x":-3.7,"y":-10.65,"c":"Round S'tids","e":9},{"x":-3.42,"y":-10.55,"c":"Round S'tids","e":9},{"x":-3.42,"y":-11.3,"c":"Round S'tids","e":9},{"x":-3.18,"y":-11.4,"c":"Round S'tids","e":9},{"x":-3.12,"y":-11.95,"c":"Round S'tids","e":9},{"x":-2.9,"y":-11.95,"c":"Round S'tids","e":9},{"x":-2.85,"y":-12.55,"c":"Round S'tids","e":9},{"x":-2.62,"y":-12.55,"c":"Round S'tids","e":9},{"x":-2.6,"y":-13.2,"c":"Round S'tids","e":9},{"x":-2.32,"y":-13.15,"c":"Round S'tids","e":9},{"x":-2.38,"y":-13.85,"c":"Round S'tids","e":9},{"x":-2.12,"y":-13.75,"c":"Round S'tids","e":9},{"x":-2.15,"y":-14.5,"c":"Round S'tids","e":9},{"x":-1.88,"y":-14.4,"c":"Round S'tids","e":9},{"x":-2.0,"y":-15.1,"c":"Round S'tids","e":9},{"x":-1.68,"y":-14.95,"c":"Round S'tids","e":9},{"x":-1.8,"y":-15.55,"c":"Round S'tids","e":9},{"x":-1.48,"y":-15.4,"c":"Round S'tids","e":9},{"x":-1.55,"y":-16.0,"c":"Round S'tids","e":9},{"x":-1.12,"y":-16.1,"c":"Round S'tids","e":9},{"x":-1.2,"y":-16.45,"c":"Round S'tids","e":9},{"x":-0.85,"y":-16.4,"c":"Round S'tids","e":9},{"x":-0.85,"y":-16.85,"c":"Round S'tids","e":9},{"x":-0.5,"y":-16.85,"c":"Round S'tids","e":9},{"x":-0.42,"y":-17.25,"c":"Round S'tids","e":9},{"x":-0.15,"y":-17.05,"c":"Round S'tids","e":9},{"x":0.2,"y":-17.42,"c":"Round S'tids","e":9},{"x":0.25,"y":-17.08,"c":"Round S'tids","e":9},{"x":0.7,"y":-17.2,"c":"Round S'tids","e":9},{"x":0.88,"y":-16.85,"c":"Round S'tids","e":9},{"x":1.12,"y":-16.98,"c":"Round S'tids","e":9},{"x":1.4,"y":-16.55,"c":"Round S'tids","e":9},{"x":1.65,"y":-16.35,"c":"Round S'tids","e":9},
{"x":1.86,"y":-15.83,"c":"Elongated S'tids","e":8.5},{"x":1.88,"y":-15.5,"c":"Elongated S'tids","e":8.5},{"x":1.68,"y":-15.4,"c":"Elongated S'tids","e":8},{"x":2.13,"y":-15.56,"c":"Elongated S'tids","e":8.5},{"x":2.13,"y":-15.2,"c":"Elongated S'tids","e":8.5},{"x":2.38,"y":-15.0,"c":"Elongated S'tids","e":8.5},{"x":2.33,"y":-14.7,"c":"Elongated S'tids","e":8.5},{"x":2.66,"y":-14.67,"c":"Elongated S'tids","e":8.5},{"x":2.63,"y":-14.3,"c":"Elongated S'tids","e":7},{"x":2.93,"y":-14.24,"c":"Elongated S'tids","e":6.5},{"x":2.99,"y":-13.85,"c":"Elongated S'tids","e":7},{"x":2.73,"y":-13.75,"c":"Elongated S'tids","e":6.5},{"x":3.2,"y":-13.35,"c":"Elongated S'tids","e":8.5},{"x":2.88,"y":-13.4,"c":"Elongated S'tids","e":8.5},{"x":3.28,"y":-13.0,"c":"Elongated S'tids","e":7},{"x":2.98,"y":-13.05,"c":"Elongated S'tids","e":8.5},{"x":2.73,"y":-13.0,"c":"Elongated S'tids","e":7},{"x":3.33,"y":-12.53,"c":"Elongated S'tids","e":6},{"x":3.03,"y":-12.65,"c":"Elongated S'tids","e":8.5},{"x":3.06,"y":-12.26,"c":"Elongated S'tids","e":8.5},{"x":2.78,"y":-12.3,"c":"Elongated S'tids","e":8.5},{"x":2.73,"y":-11.84,"c":"Elongated S'tids","e":8.5},{"x":2.48,"y":-11.85,"c":"Elongated S'tids","e":6},{"x":2.78,"y":-11.3,"c":"Elongated S'tids","e":8.5},{"x":2.53,"y":-11.5,"c":"Elongated S'tids","e":8.5},{"x":2.28,"y":-11.3,"c":"Elongated S'tids","e":6.5},{"x":2.78,"y":-11.0,"c":"Elongated S'tids","e":8.5},{"x":2.53,"y":-11.05,"c":"Elongated S'tids","e":8.5},{"x":2.93,"y":-10.6,"c":"Elongated S'tids","e":8.5},{"x":2.63,"y":-10.7,"c":"Elongated S'tids","e":8.5},{"x":2.38,"y":-10.75,"c":"Elongated S'tids","e":8.5},{"x":2.26,"y":-10.47,"c":"Elongated S'tids","e":8.5},{"x":2.88,"y":-10.3,"c":"Elongated S'tids","e":8.5},{"x":2.58,"y":-10.25,"c":"Elongated S'tids","e":8.5},{"x":2.33,"y":-10.15,"c":"Elongated S'tids","e":8.5},{"x":2.68,"y":-9.9,"c":"Elongated S'tids","e":6},{"x":2.43,"y":-9.95,"c":"Elongated S'tids","e":6},{"x":2.05,"y":-9.78,"c":"Elongated S'tids","e":6.5},{"x":2.18,"y":-9.5,"c":"Elongated S'tids","e":8.5},{"x":2.01,"y":-9.3,"c":"Elongated S'tids","e":6},{"x":2.33,"y":-9.2,"c":"Elongated S'tids","e":8.5},{"x":2.13,"y":-8.93,"c":"Elongated S'tids","e":8.5},{"x":2.38,"y":-8.8,"c":"Elongated S'tids","e":8.5},{"x":2.08,"y":-8.55,"c":"Elongated S'tids","e":8.5},{"x":2.28,"y":-8.45,"c":"Elongated S'tids","e":8.5},{"x":1.92,"y":-8.12,"c":"Elongated S'tids","e":8.5},{"x":2.18,"y":-8.05,"c":"Elongated S'tids","e":8.5},{"x":1.83,"y":-7.7,"c":"Elongated S'tids","e":8.5},{"x":2.08,"y":-7.65,"c":"Elongated S'tids","e":8.5},{"x":1.71,"y":-6.87,"c":"Elongated S'tids","e":8.5},{"x":1.75,"y":-7.25,"c":"Elongated S'tids","e":8.5},{"x":2.03,"y":-7.25,"c":"Elongated S'tids","e":8.5},{"x":1.98,"y":-6.9,"c":"Elongated S'tids","e":8.5},{"x":1.85,"y":-6.18,"c":"Elongated S'tids","e":8.5},{"x":1.75,"y":-6.5,"c":"Elongated S'tids","e":8.5},{"x":2.03,"y":-6.55,"c":"Elongated S'tids","e":8.5},{"x":2.53,"y":-6.33,"c":"Elongated S'tids","e":8.5},{"x":2.28,"y":-6.35,"c":"Elongated S'tids","e":7.5},{"x":2.78,"y":-6.1,"c":"Elongated S'tids","e":6.5},{"x":2.08,"y":-5.9,"c":"Elongated S'tids","e":8.5},{"x":2.38,"y":-5.95,"c":"Elongated S'tids","e":8.5},{"x":2.68,"y":-5.85,"c":"Elongated S'tids","e":7},{"x":2.26,"y":-5.5,"c":"Elongated S'tids","e":8.5},{"x":2.53,"y":-5.6,"c":"Elongated S'tids","e":8.5},{"x":2.93,"y":-5.63,"c":"Elongated S'tids","e":6.5},{"x":2.58,"y":-5.2,"c":"Elongated S'tids","e":7.5},{"x":2.83,"y":-5.25,"c":"Elongated S'tids","e":7.5},{"x":2.48,"y":-4.95,"c":"Elongated S'tids","e":5.5},{"x":3.06,"y":-4.82,"c":"Elongated S'tids","e":8.5},{"x":2.83,"y":-4.9,"c":"Elongated S'tids","e":7.5},{"x":3.33,"y":-4.75,"c":"Elongated S'tids","e":8.5},{"x":3.6,"y":-4.67,"c":"Elongated S'tids","e":7},{"x":3.63,"y":-4.95,"c":"Elongated S'tids","e":5},{"x":3.88,"y":-4.7,"c":"Elongated S'tids","e":5},{"x":4.13,"y":-3.99,"c":"Elongated S'tids","e":8.5},{"x":4.23,"y":-4.37,"c":"Elongated S'tids","e":8.5},{"x":4.53,"y":-4.37,"c":"Elongated S'tids","e":7.5},{"x":5.01,"y":-4.24,"c":"Elongated S'tids","e":6},{"x":5.4,"y":-3.82,"c":"Elongated S'tids","e":7},{"x":5.4,"y":-4.02,"c":"Elongated S'tids","e":7},{"x":5.87,"y":-3.67,"c":"Elongated S'tids","e":6.5},{"x":6.85,"y":-3.82,"c":"Elongated S'tids","e":8.5},{"x":8.05,"y":-3.4,"c":"Elongated S'tids","e":7.5},{"x":1.29,"y":-16.77,"c":"Elongated S'tids","e":8.5},
{"x":2.0,"y":-15.35,"c":"Elongated S'tids","e":9},{"x":2.25,"y":-14.9,"c":"Elongated S'tids","e":9},{"x":2.5,"y":-14.5,"c":"Elongated S'tids","e":9},{"x":2.95,"y":-13.55,"c":"Elongated S'tids","e":9},{"x":3.08,"y":-13.2,"c":"Elongated S'tids","e":9},{"x":2.9,"y":-12.9,"c":"Elongated S'tids","e":9},{"x":2.95,"y":-12.45,"c":"Elongated S'tids","e":9},{"x":2.65,"y":-12.05,"c":"Elongated S'tids","e":9},{"x":2.65,"y":-11.55,"c":"Elongated S'tids","e":9},{"x":2.65,"y":-11.2,"c":"Elongated S'tids","e":9},{"x":2.5,"y":-10.9,"c":"Elongated S'tids","e":9},{"x":2.75,"y":-10.45,"c":"Elongated S'tids","e":9},{"x":2.5,"y":-10.45,"c":"Elongated S'tids","e":9},{"x":2.25,"y":-9.35,"c":"Elongated S'tids","e":9},{"x":2.22,"y":-9.05,"c":"Elongated S'tids","e":9},{"x":2.22,"y":-8.68,"c":"Elongated S'tids","e":9},{"x":2.0,"y":-8.3,"c":"Elongated S'tids","e":9},{"x":2.0,"y":-7.9,"c":"Elongated S'tids","e":9},{"x":1.92,"y":-7.45,"c":"Elongated S'tids","e":9},{"x":1.85,"y":-7.05,"c":"Elongated S'tids","e":9},{"x":1.88,"y":-6.7,"c":"Elongated S'tids","e":9},{"x":1.9,"y":-6.35,"c":"Elongated S'tids","e":9},{"x":2.15,"y":-6.1,"c":"Elongated S'tids","e":9},{"x":2.4,"y":-6.15,"c":"Elongated S'tids","e":9},{"x":2.25,"y":-5.7,"c":"Elongated S'tids","e":9},{"x":2.45,"y":-5.35,"c":"Elongated S'tids","e":9},{"x":2.7,"y":-5.05,"c":"Elongated S'tids","e":9},{"x":3.0,"y":-4.95,"c":"Elongated S'tids","e":9},{"x":3.2,"y":-4.65,"c":"Elongated S'tids","e":9},
{"x":-8.65,"y":18.31,"c":"Macrophages","e":8.5},{"x":-8.65,"y":18.31,"c":"Macrophages","e":6},
{"x":-6.6,"y":11.8,"c":"Endothelial cells","e":6},{"x":-6.48,"y":11.29,"c":"Endothelial cells","e":6},{"x":-4.34,"y":10.88,"c":"Endothelial cells","e":6},
{"x":-2.62,"y":7.34,"c":"Leydig cells","e":8},{"x":-2.91,"y":6.9,"c":"Leydig cells","e":7.5},{"x":-3.54,"y":6.75,"c":"Leydig cells","e":7.5},{"x":-3.06,"y":6.72,"c":"Leydig cells","e":7.5},{"x":-3.22,"y":6.45,"c":"Leydig cells","e":7.5},{"x":-2.24,"y":6.33,"c":"Leydig cells","e":8},{"x":-3.06,"y":5.78,"c":"Leydig cells","e":7.5},{"x":-2.76,"y":5.63,"c":"Leydig cells","e":7},{"x":0.12,"y":7.29,"c":"Leydig cells","e":8},
{"x":-4.7,"y":11.59,"c":"Myoid cells","e":6.5},{"x":0.8,"y":7.62,"c":"Myoid cells","e":6.5},{"x":2.21,"y":8.46,"c":"Myoid cells","e":6.5},{"x":3.16,"y":9.98,"c":"Myoid cells","e":7},{"x":3.53,"y":9.95,"c":"Myoid cells","e":6.5},{"x":3.65,"y":9.76,"c":"Myoid cells","e":8},{"x":3.96,"y":9.38,"c":"Myoid cells","e":4.5},{"x":6.1,"y":17.24,"c":"Myoid cells","e":4},{"x":6.2,"y":17.26,"c":"Myoid cells","e":4},
{"x":-1.34,"y":4.3,"c":"Sertoli cells","e":7},{"x":-1.34,"y":4.25,"c":"Sertoli cells","e":7}
],
"labels":[{"c":"Macrophages","t":"Macrophages","tx":-4.34,"ty":18.8,"a":-7.62,"b":-1.06,"p":19.58,"q":18.01},{"c":"Endothelial cells","t":"Endothelial cells","tx":-10.45,"ty":12.81,"a":-14.3,"b":-6.61,"p":13.6,"q":12.02},{"c":"SSCs","t":"SSCs","tx":-13.22,"ty":9.29,"a":-14.79,"b":-11.66,"p":10.05,"q":8.53},{"c":"Leydig cells","t":"Leydig cells","tx":-3.68,"ty":8.42,"a":-6.54,"b":-0.81,"p":9.2,"q":7.63},{"c":"Differentiating S'gonia","t":"Differentiating S'gonia","tx":-7.08,"ty":2.7,"a":-12.17,"b":-2.0,"p":3.48,"q":1.91},{"c":"Sertoli cells","t":"Sertoli cells","tx":2.08,"ty":2.7,"a":-0.73,"b":4.89,"p":3.48,"q":1.91},{"c":"Myoid cells","t":"Myoid cells","tx":4.25,"ty":10.81,"a":1.51,"b":6.99,"p":11.6,"q":10.03},{"c":"Sperm ","t":"Sperm","tx":12.99,"ty":1.2,"a":11.24,"b":15.02,"p":1.99,"q":0.41},{"c":"Sperm","t":"Sperm","tx":11.4,"ty":-1.67,"a":9.61,"b":13.12,"p":-0.89,"q":-2.46},{"c":"Early primary S'cytes","t":"Early primary S'cytes","tx":-8.58,"ty":-4.18,"a":-13.48,"b":-3.69,"p":-3.41,"q":-4.96},{"c":"Late primary S'cytes","t":"Late primary S'cytes","tx":-11.08,"ty":-10.27,"a":-15.82,"b":-6.35,"p":-9.5,"q":-11.05},{"c":"Round S'tids","t":"Round S'tids","tx":-0.43,"ty":-13.41,"a":-3.52,"b":2.67,"p":-12.65,"q":-14.17},{"c":"Elongated S'tids","t":"Elongated S'tids","tx":3.85,"ty":-7.78,"a":-0.01,"b":7.71,"p":-7.0,"q":-8.55}],
"leaders":[{"c":"Macrophages","a":-7.62,"p":18.52,"b":-8.32,"q":17.47},{"c":"Endothelial cells","a":-6.61,"p":12.52,"b":-5.91,"q":11.42},{"c":"Leydig cells","a":-2.95,"p":7.63,"b":-2.36,"q":6.85},{"c":"Myoid cells","a":3.37,"p":9.9,"b":2.91,"q":9.25},{"c":"Sertoli cells","a":-0.73,"p":2.98,"b":-1.34,"q":4.26},{"c":"Elongated S'tids","a":3.12,"p":-8.55,"b":2.53,"q":-9.35},{"c":"Round S'tids","a":-1.15,"p":-14.17,"b":-1.64,"q":-14.77},{"c":"Late primary S'cytes","a":-10.67,"p":-8.7,"b":-10.94,"q":-9.45}]
},
"layer":[
{"data":{"name":"bg"},"mark":{"type":"circle","size":1000,"color":"#888","opacity":0.05},"encoding":{"x":{"field":"x","type":"quantitative","scale":{"domain":[-16.44,16.86],"nice":false,"zero":false},"axis":{"title":"UMAP_1","values":[-10,0,10],"grid":false,"ticks":false,"domain":false,"labelExpr":"''+datum.value","labelFont":"Liberation Sans","labelFontSize":61,"labelColor":"#000","labelPadding":36,"titleFont":"Liberation Sans","titleFontSize":62,"titleFontWeight":"normal","titleColor":"#000","titleBaseline":"alphabetic","titleY":164,"titleAnchor":"middle"}},"y":{"field":"y","type":"quantitative","scale":{"domain":[-19.14,20.29],"nice":false,"zero":false},"axis":{"title":"UMAP_2","values":[-10,0,10,20],"grid":false,"ticks":false,"domain":false,"labelExpr":"''+datum.value","labelFont":"Liberation Sans","labelFontSize":61,"labelColor":"#000","labelPadding":25,"labelOffset":4,"labelFlush":false,"titleFont":"Liberation Sans","titleFontSize":62,"titleFontWeight":"normal","titleColor":"#000","titleBaseline":"alphabetic","titleX":-143,"titleAnchor":"middle"}}}},
{"data":{"name":"cells"},"mark":{"type":"point","filled":true,"size":340,"strokeWidth":2,"fillOpacity":0.75},"encoding":{"x":{"field":"x","type":"quantitative"},"y":{"field":"y","type":"quantitative"},
"color":{"field":"c","type":"nominal","scale":{"domain":["Differentiating S'gonia","Early primary S'cytes","Elongated S'tids","Endothelial cells","Late primary S'cytes","Leydig cells","Macrophages","Myoid cells","Round S'tids","Sertoli cells","Sperm","Sperm ","SSCs"],"range":["#1F77B4","#FF7F0E","#2CA02C","#D62728","#9467BD","#8C564B","#E377C2","#7F7F7F","#BCBD22","#17BECF","#AEC7E8","#FFBB78","#98DF8A"]},"legend":{"title":"Cluster","orient":"none","legendX":1644,"legendY":624,"columns":2,"symbolType":"circle","symbolSize":380,"symbolOpacity":1,"symbolFillOpacity":1,"symbolStrokeWidth":0,"symbolOffset":29,"labelOffset":51,"columnPadding":29,"rowPadding":50,"labelFont":"Liberation Sans","labelFontSize":50,"labelColor":"#000","labelLimit":800,"titleFont":"Liberation Sans","titleFontSize":50,"titleFontWeight":"normal","titleColor":"#000","titlePadding":50,"titleLimit":900,"padding":0,"encode":{"labels":{"update":{"dy":{"value":6}}}}}},
"stroke":{"field":"c","type":"nominal","scale":{"domain":["Differentiating S'gonia","Early primary S'cytes","Elongated S'tids","Endothelial cells","Late primary S'cytes","Leydig cells","Macrophages","Myoid cells","Round S'tids","Sertoli cells","Sperm","Sperm ","SSCs"],"range":["#1F77B4","#FF7F0E","#2CA02C","#D62728","#9467BD","#8C564B","#E377C2","#7F7F7F","#BCBD22","#17BECF","#AEC7E8","#FFBB78","#98DF8A"]},"legend":null},
"opacity":{"field":"e","type":"quantitative","scale":{"domain":[4,9],"range":[0.25,1]},"legend":{"title":"Expression(log2(TPM+1))","orient":"none","legendX":1644,"legendY":143,"values":[4,6,8],"type":"symbol","symbolType":"circle","symbolSize":320,"symbolFillColor":"#000","symbolStrokeColor":"#000","symbolStrokeWidth":2,"symbolOffset":29,"labelOffset":51,"rowPadding":50,"labelFont":"Liberation Sans","labelFontSize":50,"labelColor":"#000","titleFont":"Liberation Sans","titleFontSize":50,"titleFontWeight":"normal","titleColor":"#000","titlePadding":50,"titleLimit":900,"padding":0,"encode":{"labels":{"update":{"dy":{"value":6}}}}}}}},
{"data":{"name":"leaders"},"mark":{"type":"rule","strokeWidth":5,"opacity":0.8},"encoding":{"x":{"field":"a","type":"quantitative"},"y":{"field":"p","type":"quantitative"},"x2":{"field":"b"},"y2":{"field":"q"},"color":{"field":"c","type":"nominal","legend":null}}},
{"data":{"name":"labels"},"mark":{"type":"rect","filled":false,"fill":"#fff","fillOpacity":0.72,"strokeWidth":2.5,"strokeOpacity":0.72,"cornerRadius":8},"encoding":{"x":{"field":"a","type":"quantitative"},"x2":{"field":"b"},"y":{"field":"p","type":"quantitative"},"y2":{"field":"q"},"color":{"field":"c","type":"nominal","legend":null}}},
{"data":{"name":"labels"},"mark":{"type":"text","font":"Liberation Sans","fontSize":46,"opacity":0.72,"baseline":"middle","align":"center","dy":2},"encoding":{"x":{"field":"tx","type":"quantitative"},"y":{"field":"ty","type":"quantitative"},"text":{"field":"t"},"color":{"field":"c","type":"nominal","legend":null}}}
]}
